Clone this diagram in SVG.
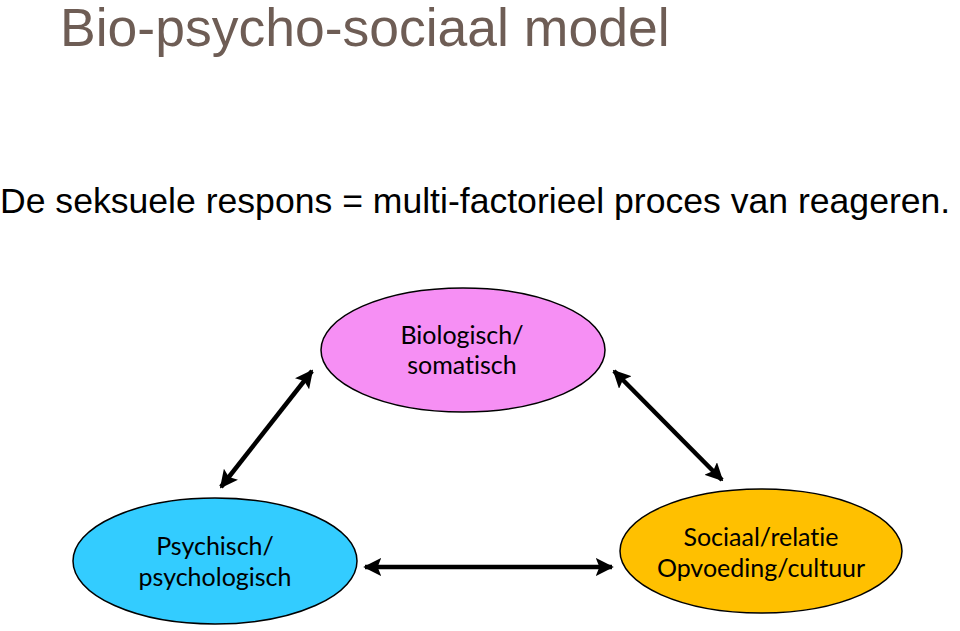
<svg xmlns="http://www.w3.org/2000/svg" width="960" height="631" viewBox="0 0 960 631">
<style>
.title{font-family:"Liberation Sans",Arial,sans-serif;font-size:53.5px;fill:#6e5d55}
.sub{font-family:"Liberation Sans",Arial,sans-serif;font-size:35.6px;fill:#000}
.node ellipse{stroke:#000;stroke-width:1.5}
.lbl{font-family:Lato,"Open Sans",sans-serif;font-size:25px;fill:#000;text-anchor:middle;font-variant-ligatures:none}
.conn line{stroke:#000;stroke-width:4.5}
</style>
<defs>
<marker id="ah" viewBox="0 0 10 10" refX="9" refY="5" markerUnits="userSpaceOnUse" markerWidth="18" markerHeight="18" orient="auto-start-reverse">
<path d="M0,0 L10,5 L0,10 L2,5 Z" fill="#000"/>
</marker>
</defs>
<rect width="960" height="631" fill="#fff"/>
<text class="title" x="60" y="46">Bio-psycho-sociaal model</text>
<text class="sub" x="0" y="213">De seksuele respons = multi-factorieel proces van reageren.</text>
<g id="connectors" class="conn">
<line x1="221" y1="487" x2="312" y2="371" marker-start="url(#ah)" marker-end="url(#ah)"/>
<line x1="614" y1="371" x2="722" y2="480" marker-start="url(#ah)" marker-end="url(#ah)"/>
<line x1="365" y1="567" x2="612" y2="567" marker-start="url(#ah)" marker-end="url(#ah)"/>
</g>
<g id="biologisch" class="node">
<ellipse cx="463" cy="350" rx="142" ry="62" fill="#f68ff4"/>
<text class="lbl" x="462" y="344">Biologisch/</text>
<text class="lbl" x="462" y="374">somatisch</text>
</g>
<g id="psychisch" class="node">
<ellipse cx="215" cy="561" rx="142" ry="63" fill="#33ccff"/>
<text class="lbl" x="215" y="555">Psychisch/</text>
<text class="lbl" x="215" y="586">psychologisch</text>
</g>
<g id="sociaal" class="node">
<ellipse cx="761" cy="551" rx="141" ry="62" fill="#ffc000"/>
<text class="lbl" x="761" y="546">Sociaal/relatie</text>
<text class="lbl" x="761" y="577">Opvoeding/cultuur</text>
</g>
</svg>
